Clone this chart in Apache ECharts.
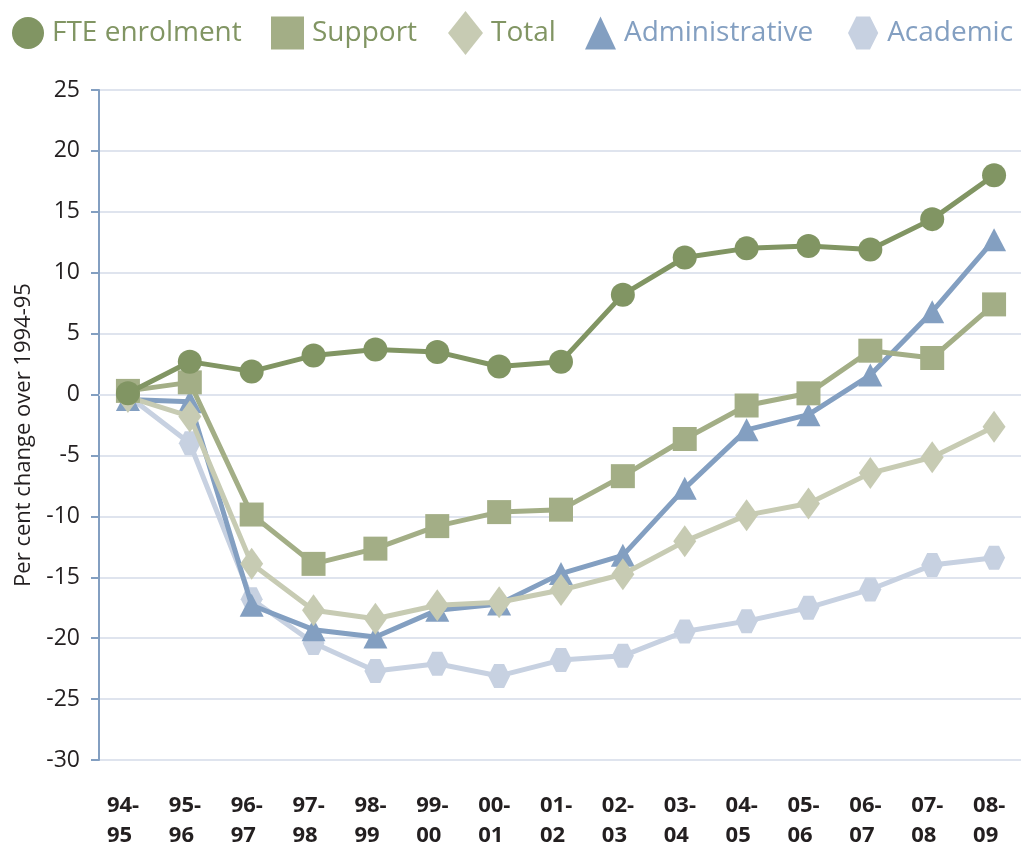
<!DOCTYPE html>
<html>
<head>
<meta charset="utf-8">
<script src="https://cdn.jsdelivr.net/npm/echarts@6/dist/echarts.min.js"></script>
<style>html,body{margin:0;padding:0;background:#fff}#c{width:1021px;height:848px}</style>
</head>
<body>
<div id="c"></div>
<script>
const categories = ['94-95','95-96','96-97','97-98','98-99','99-00','00-01','01-02','02-03','03-04','04-05','05-06','06-07','07-08','08-09'];
const fte = [0.1, 2.7, 1.9, 3.2, 3.7, 3.5, 2.3, 2.7, 8.2, 11.25, 12.0, 12.2, 11.9, 14.4, 18.0];
const support = [0.3, 1.0, -9.85, -13.9, -12.65, -10.8, -9.65, -9.45, -6.7, -3.65, -0.9, 0.1, 3.6, 3.0, 7.4];
const total = [-0.2, -1.8, -13.9, -17.7, -18.4, -17.3, -17.05, -16.05, -14.75, -12.05, -9.9, -8.95, -6.45, -5.15, -2.65];
const admin = [-0.4, -0.6, -17.3, -19.3, -19.9, -17.7, -17.2, -14.7, -13.2, -7.7, -2.9, -1.65, 1.6, 6.8, 12.7];
const academic = [-0.1, -4.0, -16.8, -20.4, -22.7, -22.1, -23.1, -21.8, -21.45, -19.45, -18.6, -17.5, -16.0, -14.0, -13.4];
const yMin = -30, yMax = 25, yStep = 5;
const yName = 'Per cent change over 1994-95';

const C = {fte:'#819563', support:'#a3ae86', total:'#c7cbb3', admin:'#839fc1', academic:'#c7d1e1'};
const hexPath = 'path://M0,12 L6,0 L16,0 L22,12 L16,24 L6,24 Z';
const FONT = 'Open Sans';

function lg(name, icon, left, w, h, color) {
  return {
    data: [{name: name, icon: icon}],
    left: left, top: 33 - h / 2, padding: 0,
    itemWidth: w, itemHeight: h,
    selectedMode: false,
    textStyle: {fontFamily: FONT, fontSize: 28, color: color, padding: [0, 0, 0, 3]}
  };
}

function line(name, data, color, symbol, size, z) {
  return {
    name: name, type: 'line', data: data, z: z,
    symbol: symbol, symbolSize: size,
    lineStyle: {color: color, width: 5},
    itemStyle: {color: color},
    emphasis: {disabled: true}
  };
}

const chart = echarts.init(document.getElementById('c'));
chart.setOption({
  animation: false,
  legend: [
    lg('FTE enrolment', 'circle', 12, 32, 32, C.fte),
    lg('Support', 'rect', 271, 33, 33, C.fte),
    lg('Total', 'diamond', 448, 35, 44, C.fte),
    lg('Administrative', 'triangle', 585, 31, 33, C.admin),
    lg('Academic', hexPath, 848, 32, 33, C.admin)
  ],
  grid: {left: 97, right: -4, top: 90, bottom: 88, outerBoundsMode: 'none', containLabel: false},
  xAxis: {
    type: 'category', data: categories, boundaryGap: true,
    axisLine: {lineStyle: {color: '#dfe4ee', width: 2}},
    axisTick: {show: false},
    axisLabel: {
      margin: 31, interval: 0,
      formatter: function (v) {
        const i = v.indexOf('-');
        return '{a|' + v.slice(0, i + 1) + '}\n{a|' + v.slice(i + 1) + '}';
      },
      rich: {a: {fontFamily: FONT, fontSize: 22, fontWeight: 'bold', color: '#231f20', width: 42, align: 'left', lineHeight: 30}}
    },
    splitLine: {show: false}
  },
  yAxis: {
    type: 'value', min: yMin, max: yMax, interval: yStep, offset: -2,
    name: yName, nameLocation: 'middle', nameGap: 64,
    nameTextStyle: {fontFamily: FONT, fontSize: 22, color: '#231f20', padding: [0, 20, 0, 0]},
    axisLine: {show: true, lineStyle: {color: '#839fc1', width: 2}},
    axisTick: {show: true, length: 8, lineStyle: {color: '#839fc1', width: 2}},
    axisLabel: {margin: 19, fontFamily: FONT, fontSize: 23, color: '#231f20'},
    splitLine: {lineStyle: {color: '#dfe4ee', width: 2}}
  },
  series: [
    line('Academic', academic, C.academic, hexPath, [22, 24], 2),
    line('Administrative', admin, C.admin, 'triangle', [24, 23], 3),
    line('Total', total, C.total, 'diamond', [23, 32], 4),
    line('Support', support, C.support, 'rect', 24, 5),
    line('FTE enrolment', fte, C.fte, 'circle', 24, 6)
  ]
});
</script>
</body>
</html>
